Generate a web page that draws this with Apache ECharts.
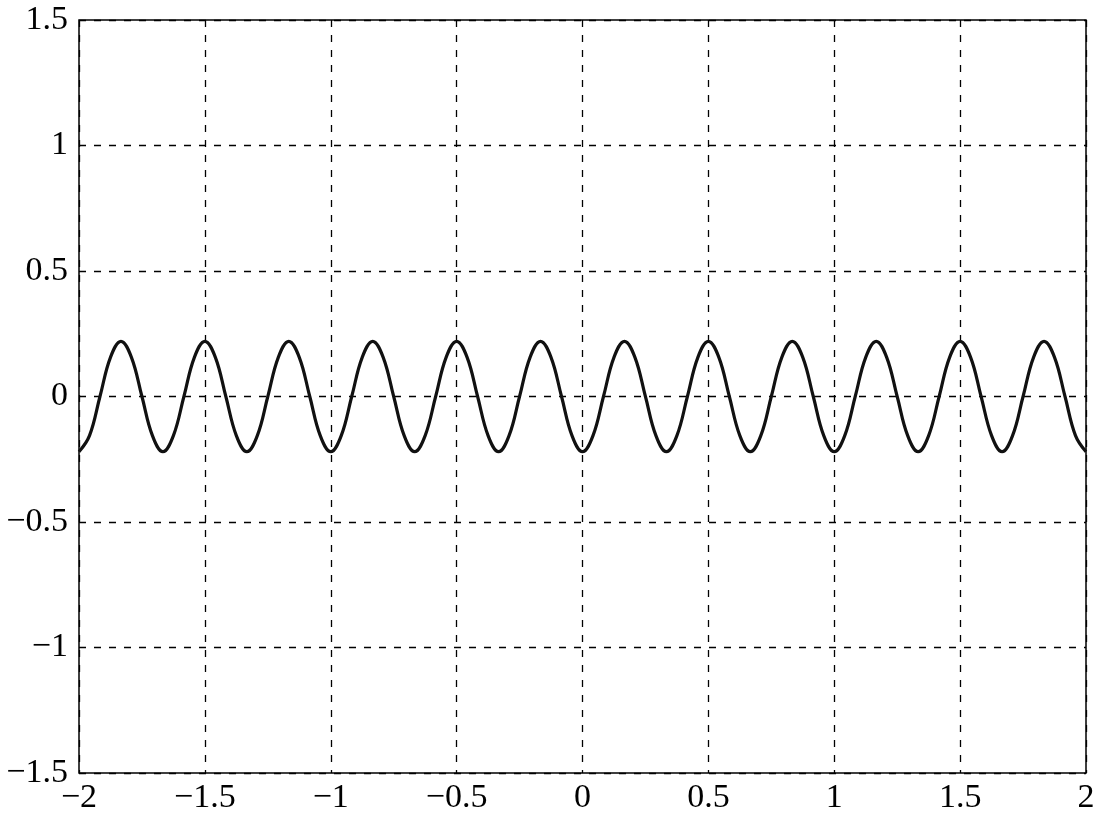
<!DOCTYPE html>
<html>
<head>
<meta charset="utf-8">
<script src="https://cdn.jsdelivr.net/npm/echarts@6/dist/echarts.min.js"></script>
<style>html,body{margin:0;padding:0;background:#fff;}#c{width:1098px;height:820px;}</style>
</head>
<body>
<div id="c"></div>
<script>
// x positions (step 1/24) and values
var xValues = [
-2,-1.9583,-1.9167,-1.875,-1.8333,-1.7917,-1.75,-1.7083,
-1.6667,-1.625,-1.5833,-1.5417,-1.5,-1.4583,-1.4167,-1.375,
-1.3333,-1.2917,-1.25,-1.2083,-1.1667,-1.125,-1.0833,-1.0417,
-1,-0.9583,-0.9167,-0.875,-0.8333,-0.7917,-0.75,-0.7083,
-0.6667,-0.625,-0.5833,-0.5417,-0.5,-0.4583,-0.4167,-0.375,
-0.3333,-0.2917,-0.25,-0.2083,-0.1667,-0.125,-0.0833,-0.0417,
0,0.0417,0.0833,0.125,0.1667,0.2083,0.25,0.2917,
0.3333,0.375,0.4167,0.4583,0.5,0.5417,0.5833,0.625,
0.6667,0.7083,0.75,0.7917,0.8333,0.875,0.9167,0.9583,
1,1.0417,1.0833,1.125,1.1667,1.2083,1.25,1.2917,
1.3333,1.375,1.4167,1.4583,1.5,1.5417,1.5833,1.625,
1.6667,1.7083,1.75,1.7917,1.8333,1.875,1.9167,1.9583,
2
];
var yValues = [
-0.22,-0.156,0,0.156,0.22,0.156,0,-0.156,
-0.22,-0.156,0,0.156,0.22,0.156,0,-0.156,
-0.22,-0.156,0,0.156,0.22,0.156,0,-0.156,
-0.22,-0.156,0,0.156,0.22,0.156,0,-0.156,
-0.22,-0.156,0,0.156,0.22,0.156,0,-0.156,
-0.22,-0.156,0,0.156,0.22,0.156,0,-0.156,
-0.22,-0.156,0,0.156,0.22,0.156,0,-0.156,
-0.22,-0.156,0,0.156,0.22,0.156,0,-0.156,
-0.22,-0.156,0,0.156,0.22,0.156,0,-0.156,
-0.22,-0.156,0,0.156,0.22,0.156,0,-0.156,
-0.22,-0.156,0,0.156,0.22,0.156,0,-0.156,
-0.22,-0.156,0,0.156,0.22,0.156,0,-0.156,
-0.22
];
var xTicks = [-2,-1.5,-1,-0.5,0,0.5,1,1.5,2];
var yTicks = [-1.5,-1,-0.5,0,0.5,1,1.5];

var pairs = xValues.map(function(x,i){return [x, yValues[i]];});
function fmt(v){ var s = String(Math.round(v*100)/100); return s.replace('-', '\u2212'); }
var font = "'Liberation Serif', 'Times New Roman', serif";
var chart = echarts.init(document.getElementById('c'), null, {renderer:'canvas'});
chart.setOption({
  animation:false,
  backgroundColor:'#fff',
  grid:{left:79,right:12,top:20,bottom:47,show:true,borderColor:'#000',borderWidth:1.5,backgroundColor:'transparent'},
  xAxis:{type:'value',min:xTicks[0],max:xTicks[xTicks.length-1],interval:0.5,
    axisLine:{show:false},axisTick:{show:false},
    axisLabel:{formatter:fmt,color:'#000',fontFamily:font,fontSize:34,margin:8},
    splitLine:{show:true,lineStyle:{color:'#000',width:1.3,type:[7,8]}}},
  yAxis:{type:'value',min:yTicks[0],max:yTicks[yTicks.length-1],interval:0.5,
    axisLine:{show:false},axisTick:{show:false},
    axisLabel:{formatter:fmt,color:'#000',fontFamily:font,fontSize:34,margin:11},
    splitLine:{show:true,lineStyle:{color:'#000',width:1.3,type:[7,8]}}},
  series:[{type:'line',data:pairs,smooth:0.4,showSymbol:false,
    lineStyle:{color:'#111',width:3.2}}]
});
</script>
</body>
</html>
